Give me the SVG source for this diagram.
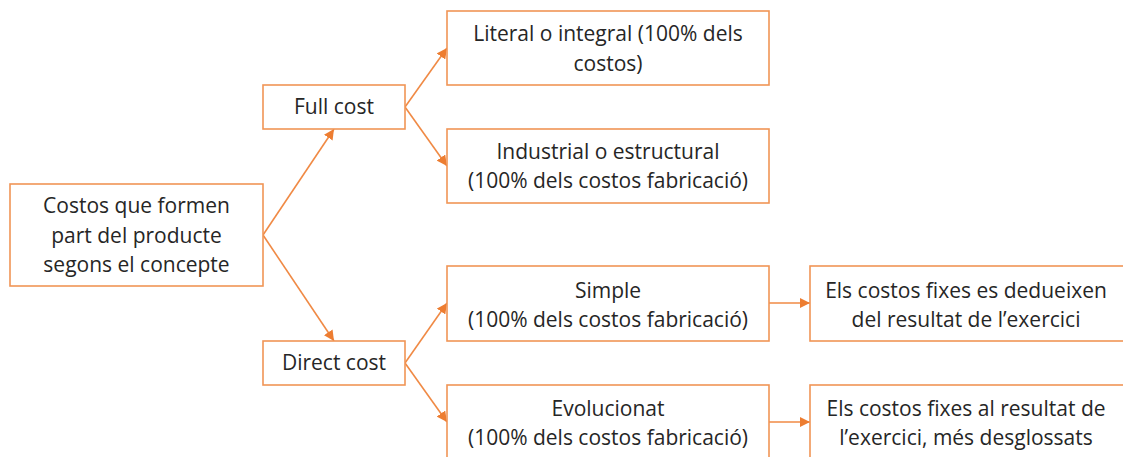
<svg xmlns="http://www.w3.org/2000/svg" width="1123" height="457" viewBox="0 0 1123 457">
<style>
.box{fill:#fff;stroke:#F19556;stroke-width:1.6}
.t{font-family:"Open Sans","Liberation Sans",Arial,sans-serif;font-size:21px;fill:#262626;text-anchor:middle}
.c{stroke:#F08A45;stroke-width:1.6;fill:none;marker-end:url(#ah)}
</style>
<defs>
<marker id="ah" viewBox="0 0 10 10" refX="10" refY="5" markerWidth="6.5" markerHeight="6.5" markerUnits="strokeWidth" orient="auto">
<path d="M0,0 L10,5 L0,10 z" fill="#ED7D31"/>
</marker>
</defs>
<rect width="1123" height="457" fill="#fff"/>
<g id="connectors">
<line class="c" x1="263" y1="235" x2="334" y2="129"/>
<line class="c" x1="263" y1="235" x2="334" y2="341"/>
<line class="c" x1="405" y1="107" x2="447" y2="48"/>
<line class="c" x1="405" y1="107" x2="447" y2="166"/>
<line class="c" x1="405" y1="363" x2="447" y2="303"/>
<line class="c" x1="405" y1="363" x2="447" y2="422"/>
<line class="c" x1="769" y1="303" x2="810" y2="303"/>
<line class="c" x1="769" y1="422" x2="810" y2="422"/>
</g>
<g id="root">
<rect class="box" x="10" y="184" width="253" height="102"/>
<text class="t" x="136.5" y="213">Costos que formen</text>
<text class="t" x="136.5" y="243">part del producte</text>
<text class="t" x="136.5" y="272">segons el concepte</text>
</g>
<g id="fullcost">
<rect class="box" x="263" y="85" width="142" height="44"/>
<text class="t" x="334" y="114">Full cost</text>
</g>
<g id="directcost">
<rect class="box" x="263" y="341" width="142" height="44"/>
<text class="t" x="334" y="370">Direct cost</text>
</g>
<g id="literal">
<rect class="box" x="447" y="11" width="322" height="74"/>
<text class="t" x="608" y="41">Literal o integral (100% dels</text>
<text class="t" x="608" y="71">costos)</text>
</g>
<g id="industrial">
<rect class="box" x="447" y="129" width="322" height="74"/>
<text class="t" x="608" y="159">Industrial o estructural</text>
<text class="t" x="608" y="188">(100% dels costos fabricació)</text>
</g>
<g id="simple">
<rect class="box" x="447" y="266" width="322" height="75"/>
<text class="t" x="608" y="298">Simple</text>
<text class="t" x="608" y="327">(100% dels costos fabricació)</text>
</g>
<g id="evolucionat">
<rect class="box" x="447" y="385" width="322" height="80"/>
<text class="t" x="608" y="416">Evolucionat</text>
<text class="t" x="608" y="445">(100% dels costos fabricació)</text>
</g>
<g id="simple-result">
<rect class="box" x="810" y="266" width="320" height="75"/>
<text class="t" x="966" y="298">Els costos fixes es dedueixen</text>
<text class="t" x="966" y="327">del resultat de l’exercici</text>
</g>
<g id="evol-result">
<rect class="box" x="810" y="385" width="320" height="80"/>
<text class="t" x="966" y="416">Els costos fixes al resultat de</text>
<text class="t" x="966" y="445">l’exercici, més desglossats</text>
</g>
</svg>
